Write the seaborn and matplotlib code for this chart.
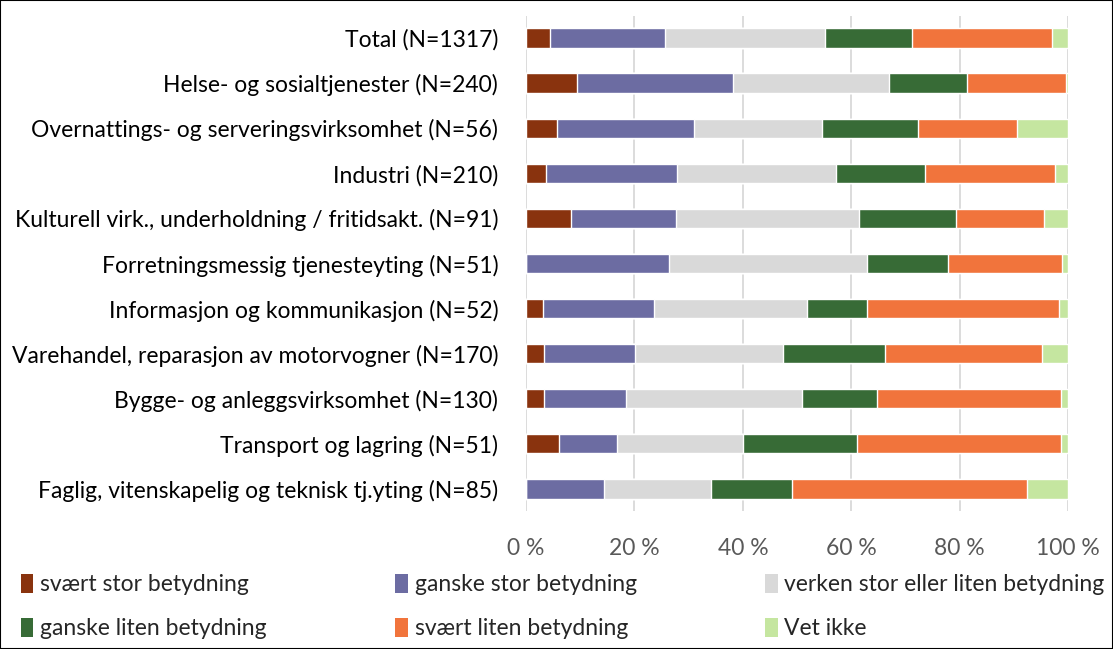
import pandas as pd
import seaborn as sns
from matplotlib import pyplot as plt
from matplotlib.patches import Patch


categories = [
    "Total (N=1317)",
    "Helse- og sosialtjenester (N=240)",
    "Overnattings- og serveringsvirksomhet (N=56)",
    "Industri (N=210)",
    "Kulturell virk., underholdning / fritidsakt. (N=91)",
    "Forretningsmessig tjenesteyting (N=51)",
    "Informasjon og kommunikasjon (N=52)",
    "Varehandel, reparasjon av motorvogner (N=170)",
    "Bygge- og anleggsvirksomhet (N=130)",
    "Transport og lagring (N=51)",
    "Faglig, vitenskapelig og teknisk tj.yting (N=85)",
]

series = [
    "svært stor betydning",
    "ganske stor betydning",
    "verken stor eller liten betydning",
    "ganske liten betydning",
    "svært liten betydning",
    "Vet ikke",
]

svaert_stor = [4.4, 9.4, 5.7, 3.7, 8.3, 0.0, 3.1, 3.3, 3.3, 6.1, 0.0]
ganske_stor = [21.3, 28.8, 25.3, 24.2, 19.4, 26.4, 20.5, 16.8, 15.2, 10.7, 14.4]
verken = [29.6, 28.8, 23.6, 29.2, 33.8, 36.6, 28.1, 27.3, 32.5, 23.3, 19.8]
ganske_liten = [15.9, 14.3, 17.8, 16.4, 17.8, 14.8, 11.1, 18.7, 13.7, 21.1, 14.9]
svaert_liten = [25.9, 18.3, 18.2, 24.0, 16.2, 21.1, 35.4, 29.0, 34.0, 37.6, 43.4]
vet_ikke = [3.0, 0.4, 9.4, 2.4, 4.5, 1.1, 1.7, 4.8, 1.3, 1.3, 7.5]

colors = ["#89330E", "#6C6CA2", "#D9D9D9", "#376B36", "#F1743C", "#C5E6A0"]

df = pd.DataFrame({
    "kategori": categories,
    series[0]: svaert_stor,
    series[1]: ganske_stor,
    series[2]: verken,
    series[3]: ganske_liten,
    series[4]: svaert_liten,
    series[5]: vet_ikke,
})

# normalise to 100 % and accumulate for stacking
vals = df[series]
vals = vals.div(vals.sum(axis=1), axis=0) * 100
cum = vals.cumsum(axis=1)

sns.set_theme(style="white")
plt.rcParams["font.family"] = ["Lato", "DejaVu Sans"]

fig = plt.figure(figsize=(11.13, 6.49), dpi=100)
ax = fig.add_axes([0.4726, 0.212, 0.487, 0.764])

# draw from the longest cumulative bar down so each segment shows
for i in reversed(range(len(series))):
    sns.barplot(x=cum[series[i]], y=df["kategori"], color=colors[i],
                width=0.43, saturation=1, ax=ax, zorder=3)

ax.set_xlim(0, 100)
ax.set_ylim(10.5, -0.5)
ax.set_xticks([0, 20, 40, 60, 80, 100])
ax.set_xticklabels(["0 %", "20 %", "40 %", "60 %", "80 %", "100 %"])
ax.grid(axis="x", color="#D9D9D9", linewidth=1.3, zorder=0)
ax.set_xlabel("")
ax.set_ylabel("")
for s in ax.spines.values():
    s.set_visible(False)
ax.tick_params(axis="x", labelsize=16.5, colors="#595959", pad=19, length=0)
ax.tick_params(axis="y", labelsize=16.5, labelcolor="black", pad=20, length=0)

# legend laid out row by row in three columns
handles = [Patch(facecolor=c, edgecolor="none") for c in colors]
order = [0, 3, 1, 4, 2, 5]
fig.legend([handles[k] for k in order], [series[k] for k in order],
           ncol=3, loc="lower left", bbox_to_anchor=(0.0, -0.017),
           frameon=False, fontsize=16.5, handlelength=0.55, handleheight=0.9,
           handletextpad=0.3, columnspacing=5.6, labelspacing=1.0)

fig.patches.append(plt.Rectangle((0, 0), 1, 1, transform=fig.transFigure,
                                 fill=False, edgecolor="black", linewidth=1.5))

plt.savefig("out.png", dpi=100)
